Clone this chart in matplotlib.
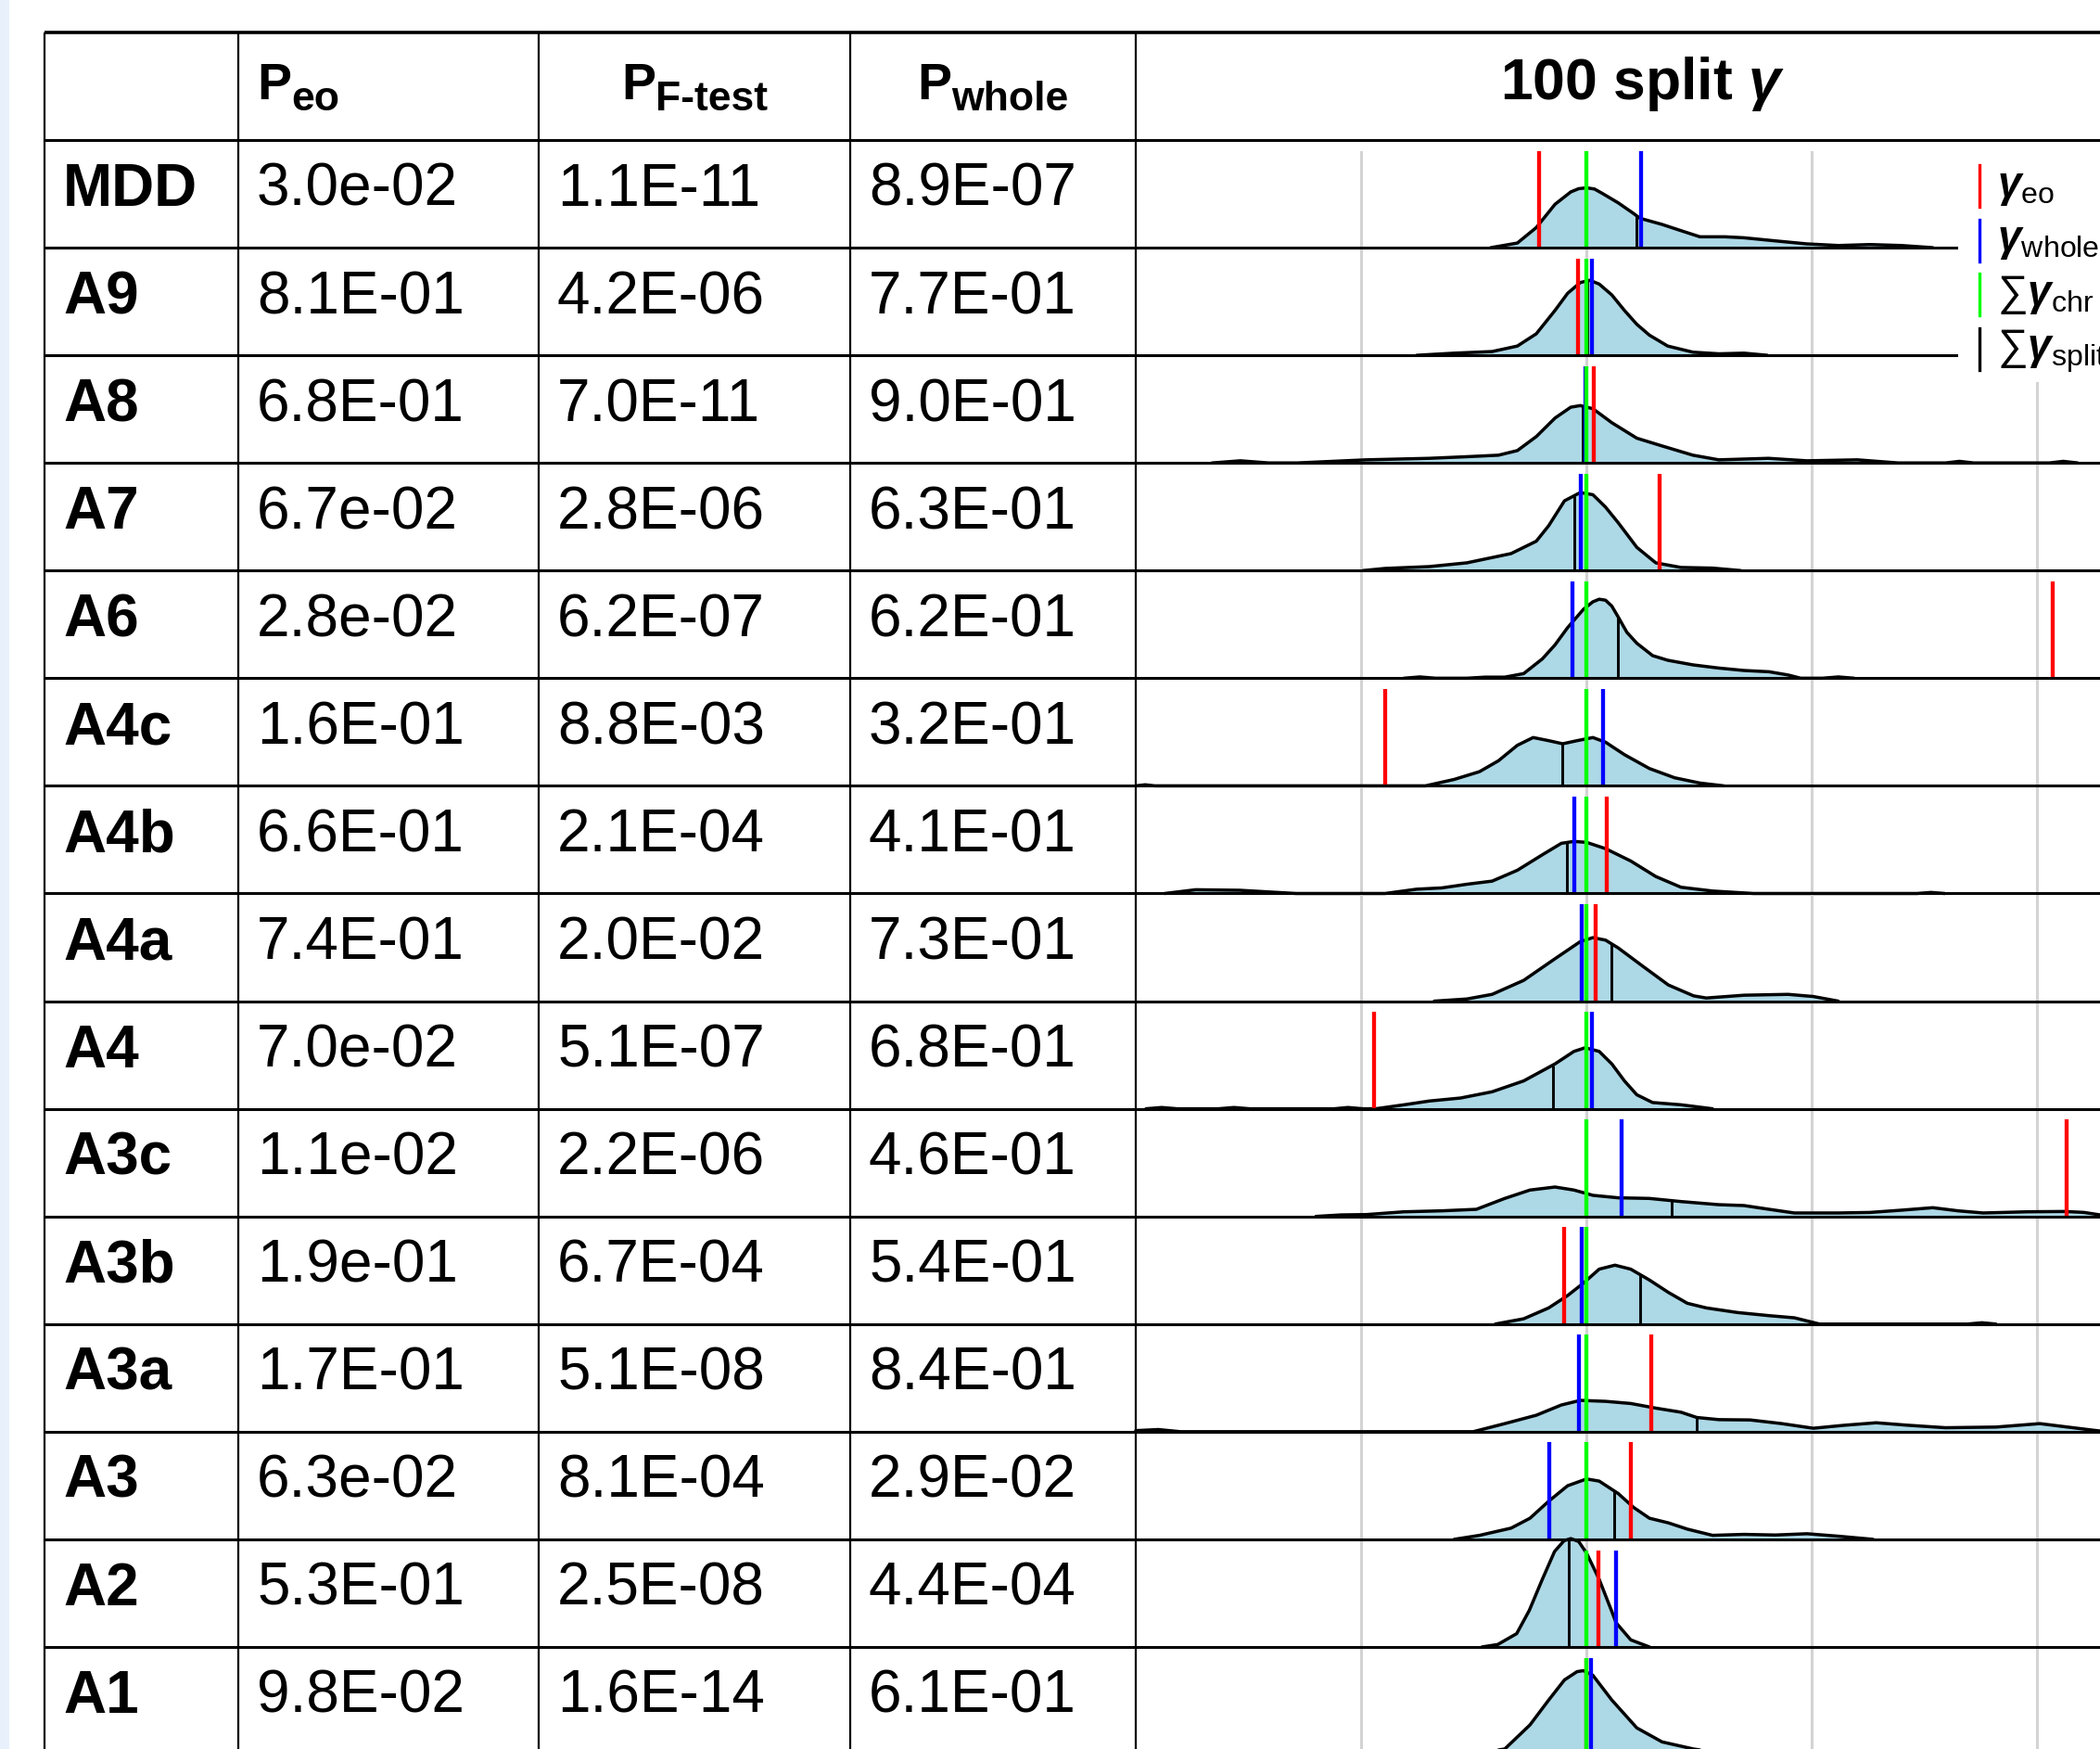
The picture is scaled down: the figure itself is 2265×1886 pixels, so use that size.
import numpy as np
import matplotlib.pyplot as plt
from matplotlib.patches import Rectangle

plt.rcParams["font.family"] = ["Liberation Sans", "DejaVu Sans"]
plt.rcParams["mathtext.fontset"] = "custom"
plt.rcParams["mathtext.rm"] = "Liberation Sans"
plt.rcParams["mathtext.it"] = "Liberation Sans:italic"
plt.rcParams["mathtext.bf"] = "Liberation Sans:bold"
plt.rcParams["mathtext.bfit"] = "Liberation Sans:italic:bold"

# table values
traits = ["MDD", "A9", "A8", "A7", "A6", "A4c", "A4b", "A4a", "A4",
          "A3c", "A3b", "A3a", "A3", "A2", "A1"]
p_eo = ["3.0e-02", "8.1E-01", "6.8E-01", "6.7e-02", "2.8e-02", "1.6E-01",
        "6.6E-01", "7.4E-01", "7.0e-02", "1.1e-02", "1.9e-01", "1.7E-01",
        "6.3e-02", "5.3E-01", "9.8E-02"]
p_ftest = ["1.1E-11", "4.2E-06", "7.0E-11", "2.8E-06", "6.2E-07", "8.8E-03",
           "2.1E-04", "2.0E-02", "5.1E-07", "2.2E-06", "6.7E-04", "5.1E-08",
           "8.1E-04", "2.5E-08", "1.6E-14"]
p_whole = ["8.9E-07", "7.7E-01", "9.0E-01", "6.3E-01", "6.2E-01", "3.2E-01",
           "4.1E-01", "7.3E-01", "6.8E-01", "4.6E-01", "5.4E-01", "8.4E-01",
           "2.9E-02", "4.4E-04", "6.1E-01"]

# gamma estimates (x units of the density panel, sum of chr gammas at 0)
gamma_eo = [-0.212, -0.036, 0.034, 0.324, 2.067, -0.894, 0.089, 0.039,
            -0.941, 2.128, -0.098, 0.285, 0.198, 0.053, 0.0]
gamma_whole = [0.240, 0.022, -0.005, -0.025, -0.064, 0.073, -0.053, -0.022,
               0.022, 0.154, -0.022, -0.034, -0.165, 0.131, 0.020]
gamma_chr = [0.0, 0.0, 0.0, 0.0, 0.0, 0.0, 0.0, 0.0,
             0.0, 0.0, 0.0, 0.0, 0.0, 0.0, 0.0]
gamma_split = [0.221, 0.005, -0.016, -0.056, 0.140, -0.109, -0.087, 0.109,
               -0.151, 0.377, 0.237, 0.489, 0.123, -0.078, -0.005]

kde_x = [
    [-0.425, -0.307, -0.223, -0.140, -0.070, -0.035, 0.0, 0.035, 0.070, 0.140, 0.209,
     0.237, 0.335, 0.419, 0.503, 0.615, 0.698, 0.838, 0.978, 1.117, 1.257, 1.397, 1.536],
    [-0.754, -0.587, -0.419, -0.307, -0.223, -0.140, -0.084, -0.028, 0.014, 0.056,
     0.112, 0.168, 0.223, 0.279, 0.360, 0.472, 0.587, 0.698, 0.802],
    [-1.662, -1.536, -1.41, -1.285, -0.978, -0.698, -0.531, -0.391, -0.307, -0.223,
     -0.140, -0.070, -0.028, 0.028, 0.112, 0.223, 0.335, 0.472, 0.587, 0.807, 0.978,
     1.201, 1.383, 1.592, 1.654, 1.718, 2.053, 2.115, 2.179],
    [-0.992, -0.894, -0.698, -0.531, -0.335, -0.223, -0.168, -0.098, -0.028, 0.028,
     0.084, 0.140, 0.223, 0.307, 0.419, 0.559, 0.684],
    [-0.81, -0.74, -0.67, -0.531, -0.45, -0.363, -0.279, -0.196, -0.140, -0.084,
     -0.014, 0.028, 0.056, 0.084, 0.112, 0.140, 0.179, 0.223, 0.293, 0.360, 0.472,
     0.584, 0.698, 0.810, 0.894, 0.950, 1.047, 1.117, 1.187],
    [-2.0, -1.958, -1.916, -0.715, -0.587, -0.475, -0.391, -0.307, -0.237, -0.168,
     -0.106, -0.042, 0.028, 0.084, 0.168, 0.279, 0.391, 0.503, 0.609],
    [-1.872, -1.734, -1.539, -1.288, -0.894, -0.754, -0.642, -0.531, -0.419, -0.307,
     -0.196, -0.112, -0.056, 0.0, 0.084, 0.196, 0.307, 0.419, 0.559, 0.740,
     1.466, 1.528, 1.589],
    [-0.676, -0.531, -0.419, -0.279, -0.140, -0.028, 0.028, 0.084, 0.140, 0.251,
     0.363, 0.475, 0.531, 0.698, 0.894, 1.006, 1.117],
    [-1.955, -1.885, -1.816, -1.634, -1.564, -1.494, -1.12, -1.059, -0.992, -0.936,
     -0.81, -0.698, -0.559, -0.419, -0.279, -0.140, -0.056, -0.006, 0.056, 0.112,
     0.168, 0.223, 0.293, 0.419, 0.559],
    [-1.201, -1.089, -0.978, -0.81, -0.642, -0.489, -0.363, -0.251, -0.140, -0.056,
     0.028, 0.140, 0.279, 0.419, 0.587, 0.698, 0.81, 0.922, 1.117, 1.257, 1.397,
     1.536, 1.648, 1.760, 1.955, 2.123, 2.207, 2.285, 2.374],
    [-0.405, -0.279, -0.168, -0.084, -0.014, 0.056, 0.126, 0.196, 0.279, 0.363,
     0.447, 0.531, 0.670, 0.81, 0.922, 1.034, 1.690, 1.754, 1.816],
    [-2.0, -1.9, -1.802, -0.503, -0.363, -0.223, -0.112, -0.028, 0.084, 0.196,
     0.307, 0.419, 0.489, 0.587, 0.726, 0.866, 1.006, 1.145, 1.285, 1.425, 1.592,
     1.816, 2.011, 2.123, 2.235, 2.304],
    [-0.587, -0.475, -0.335, -0.251, -0.168, -0.084, 0.0, 0.056, 0.140, 0.209,
     0.279, 0.363, 0.447, 0.559, 0.698, 0.838, 0.978, 1.117, 1.271],
    [-0.464, -0.394, -0.31, -0.254, -0.198, -0.142, -0.1, -0.07, -0.035, 0.0,
     0.056, 0.112, 0.131, 0.196, 0.279],
    [-0.531, -0.363, -0.251, -0.168, -0.098, -0.042, -0.014, 0.028, 0.112, 0.223,
     0.335, 0.475, 0.642],
]
kde_y = [
    [0.0, 0.043, 0.187, 0.403, 0.518, 0.548, 0.556, 0.545, 0.504, 0.417, 0.317,
     0.273, 0.216, 0.158, 0.101, 0.101, 0.092, 0.063, 0.035, 0.020, 0.029, 0.020, 0.0],
    [0.0, 0.02, 0.035, 0.086, 0.2, 0.417, 0.576, 0.676, 0.697, 0.662,
     0.561, 0.417, 0.288, 0.187, 0.086, 0.029, 0.014, 0.02, 0.0],
    [0.0, 0.02, 0.0, 0.0, 0.029, 0.043, 0.058, 0.072, 0.115, 0.245,
     0.417, 0.518, 0.533, 0.504, 0.374, 0.23, 0.158, 0.072, 0.029, 0.043, 0.02,
     0.029, 0.0, 0.0, 0.015, 0.0, 0.0, 0.015, 0.0],
    [0.0, 0.02, 0.037, 0.072, 0.158, 0.273, 0.417, 0.648, 0.725, 0.705,
     0.59, 0.446, 0.216, 0.072, 0.029, 0.023, 0.0],
    [0.0, 0.012, 0.0, 0.0, 0.01, 0.01, 0.043, 0.18, 0.31, 0.47,
     0.64, 0.71, 0.734, 0.725, 0.67, 0.57, 0.426, 0.325, 0.21, 0.167, 0.124,
     0.095, 0.072, 0.06, 0.03, 0.0, 0.0, 0.012, 0.0],
    [0.0, 0.01, 0.0, 0.0, 0.06, 0.132, 0.233, 0.377, 0.449, 0.42,
     0.391, 0.42, 0.449, 0.406, 0.29, 0.161, 0.075, 0.026, 0.0],
    [0.0, 0.035, 0.03, 0.0, 0.0, 0.04, 0.052, 0.086, 0.115, 0.216,
     0.36, 0.466, 0.484, 0.475, 0.417, 0.302, 0.158, 0.058, 0.023, 0.0,
     0.0, 0.01, 0.0],
    [0.0, 0.02, 0.063, 0.193, 0.394, 0.553, 0.59, 0.567, 0.495, 0.322,
     0.15, 0.049, 0.029, 0.055, 0.063, 0.043, 0.0],
    [0.0, 0.012, 0.0, 0.0, 0.012, 0.0, 0.0, 0.012, 0.0, 0.0,
     0.037, 0.072, 0.1, 0.158, 0.259, 0.417, 0.533, 0.567, 0.533, 0.417,
     0.259, 0.13, 0.058, 0.037, 0.0],
    [0.0, 0.014, 0.017, 0.043, 0.052, 0.066, 0.167, 0.245, 0.273, 0.245,
     0.196, 0.173, 0.167, 0.138, 0.109, 0.101, 0.066, 0.032, 0.032, 0.037, 0.058,
     0.081, 0.052, 0.032, 0.043, 0.046, 0.037, 0.012, 0.0],
    [0.0, 0.049, 0.15, 0.265, 0.38, 0.51, 0.547, 0.51, 0.409, 0.294,
     0.193, 0.15, 0.107, 0.078, 0.058, 0.0, 0.0, 0.012, 0.0],
    [0.01, 0.02, 0.0, 0.0, 0.075, 0.153, 0.248, 0.291, 0.282, 0.262,
     0.219, 0.181, 0.132, 0.112, 0.109, 0.075, 0.032, 0.06, 0.083, 0.06, 0.037,
     0.043, 0.075, 0.046, 0.017, 0.0],
    [0.0, 0.037, 0.104, 0.196, 0.354, 0.498, 0.561, 0.541, 0.426, 0.296,
     0.196, 0.153, 0.095, 0.037, 0.046, 0.04, 0.052, 0.029, 0.0],
    [0.0, 0.023, 0.124, 0.34, 0.62, 0.887, 0.987, 1.007, 0.98, 0.872,
     0.628, 0.33, 0.225, 0.066, 0.0],
    [0.0, 0.052, 0.276, 0.507, 0.694, 0.771, 0.78, 0.737, 0.507, 0.248,
     0.118, 0.052, 0.0],
]

W, H = 2265, 1886
fig = plt.figure(figsize=(W / 100, H / 100), dpi=100)

col_edges = [48, 257, 581, 917, 1225, 2319]
table_top, head_bot, row_h = 35, 151, 116.07
xmin, xmax = -2.0, 2.5

# ridge rows
for i, name in enumerate(traits):
    base = head_bot + (i + 1) * row_h
    frac = 0.9 if i == 0 else 1.0
    ax = fig.add_axes([col_edges[4] / W, 1 - base / H,
                       (col_edges[5] - col_edges[4]) / W, frac * row_h / H], zorder=1)
    ax.set_xlim(xmin, xmax)
    ax.set_ylim(0, frac)
    ax.set_xticks([-1, 0, 1, 2])
    ax.set_yticks([])
    ax.tick_params(length=0, labelbottom=False)
    ax.grid(axis="x", color="#d3d3d3", lw=2.2)
    ax.set_axisbelow(True)
    for s in ax.spines.values():
        s.set_visible(False)
    ax.patch.set_visible(False)

    xs, ys = np.array(kde_x[i]), np.array(kde_y[i])
    ax.fill_between(xs, ys, color="#add8e6", lw=0, clip_on=False, zorder=2)
    ax.plot(xs, ys, color="black", lw=2.5, clip_on=False, zorder=3,
            solid_joinstyle="round", solid_capstyle="round")
    hq = np.interp(gamma_split[i], xs, ys)
    ax.vlines(gamma_split[i], 0, hq, color="black", lw=2.1, zorder=4)
    ax.vlines(gamma_eo[i], 0, 0.9, color="#ff0000", lw=3.1, zorder=5, clip_on=False)
    ax.vlines(gamma_whole[i], 0, 0.9, color="#0000ff", lw=3.1, zorder=6, clip_on=False)
    ax.vlines(gamma_chr[i], 0, 0.9, color="#00ff00", lw=3.1, zorder=7, clip_on=False)

# table layer on top
tab = fig.add_axes([0, 0, 1, 1], zorder=3)
tab.set_xlim(0, W)
tab.set_ylim(H, 0)
tab.axis("off")
tab.patch.set_visible(False)

tab.add_patch(Rectangle((0, 0), 10, H, color="#e8f1fb", lw=0))

n = len(traits)
hlines = [table_top, head_bot] + [head_bot + k * row_h for k in range(1, n + 1)]
for k, y in enumerate(hlines):
    tab.plot([col_edges[0], W + 20], [y, y], color="black",
             lw=2.6 if k == 0 else 2.2, solid_capstyle="butt")
for x in col_edges:
    tab.plot([x, x], [table_top, H + 20], color="black", lw=1.6, solid_capstyle="butt")

fs = 46
for i, name in enumerate(traits):
    yb = head_bot + i * row_h + 71
    tab.text(col_edges[0] + 20, yb, name, fontsize=fs, fontweight="bold", va="baseline")
    tab.text(col_edges[1] + 20, yb, p_eo[i], fontsize=fs, va="baseline")
    tab.text(col_edges[2] + 20, yb, p_ftest[i], fontsize=fs, va="baseline")
    tab.text(col_edges[3] + 20, yb, p_whole[i], fontsize=fs, va="baseline")

renderer = fig.canvas.get_renderer()


def header(x, sub, align):
    t1 = tab.text(0, 107, "P", fontsize=40, fontweight="bold", va="baseline")
    t2 = tab.text(0, 119, sub, fontsize=32, fontweight="bold", va="baseline")
    w1 = t1.get_window_extent(renderer).width
    w2 = t2.get_window_extent(renderer).width
    x0 = x if align == "left" else x - (w1 + w2) / 2
    t1.set_x(x0)
    t2.set_x(x0 + w1)


header(col_edges[1] + 20, "eo", "left")
header((col_edges[2] + col_edges[3]) / 2, "F-test", "center")
header((col_edges[3] + col_edges[4]) / 2, "whole", "center")
tab.text((col_edges[4] + col_edges[5]) / 2, 107, r"100 split $\mathbfit{\gamma}$",
         fontsize=45, fontweight="bold", ha="center", va="baseline")

# legend
tab.add_patch(Rectangle((2112, 154), 200, 258, color="white", lw=0, zorder=5))
leg_colors = ["#ff0000", "#0000ff", "#00ff00", "black"]
leg_labels = [r"$\mathbfit{\gamma}_{\mathrm{eo}}$", r"$\mathbfit{\gamma}_{\mathrm{whole}}$",
              r"$\sum\mathbfit{\gamma}_{\mathrm{chr}}$", r"$\sum\mathbfit{\gamma}_{\mathrm{split}}$"]
for k, (c, lab) in enumerate(zip(leg_colors, leg_labels)):
    yc = 200.5 + 58.5 * k
    tab.plot([2135, 2135], [yc - 22.5, yc + 22.5], color=c, lw=2.4, zorder=6)
    tab.text(2154, yc + 11.5, lab, fontsize=33, va="baseline", zorder=6)

fig.savefig("out.png", dpi=100)
